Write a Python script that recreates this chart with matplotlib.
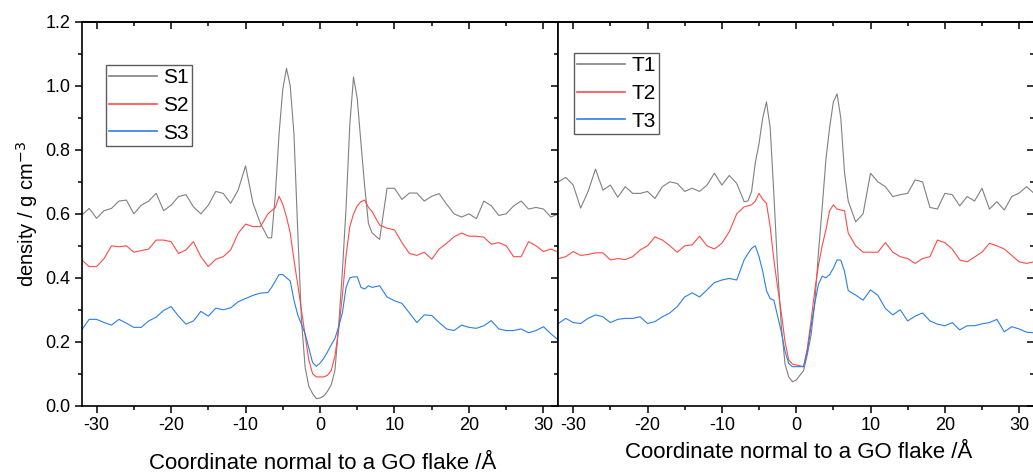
import matplotlib.pyplot as plt
from matplotlib.ticker import MultipleLocator, FormatStrFormatter

plt.rcParams['font.family'] = ['Liberation Sans', 'DejaVu Sans']
plt.rcParams['axes.unicode_minus'] = False

# coordinate grid (1 A steps outside, 0.5 A steps around the flake)
x = ([float(v) for v in range(-32, -6)]
     + [v * 0.5 for v in range(-13, 14)]
     + [float(v) for v in range(7, 33)])

s1 = [0.596, 0.617, 0.586, 0.61, 0.617, 0.64, 0.643, 0.60, 0.627, 0.64, 0.664, 0.61, 0.627,
      0.654, 0.66, 0.622, 0.60, 0.627, 0.67, 0.664, 0.633, 0.674, 0.75, 0.633, 0.57, 0.525,
      0.525, 0.66, 0.85, 0.99, 1.055, 1.00, 0.85, 0.55, 0.27, 0.12, 0.06, 0.038, 0.022, 0.024,
      0.03, 0.045, 0.065, 0.11, 0.25, 0.42, 0.62, 0.88, 1.028, 0.96, 0.82, 0.685, 0.57,
      0.54, 0.52, 0.68, 0.68, 0.645, 0.665, 0.665, 0.64, 0.655, 0.663, 0.63, 0.60, 0.59,
      0.60, 0.585, 0.64, 0.625, 0.595, 0.60, 0.625, 0.64, 0.615, 0.62, 0.615, 0.59, 0.60]
s2 = [0.456, 0.435, 0.435, 0.46, 0.50, 0.497, 0.50, 0.48, 0.485, 0.49, 0.518, 0.518, 0.513,
      0.476, 0.487, 0.513, 0.466, 0.435, 0.458, 0.466, 0.487, 0.539, 0.568, 0.56, 0.56, 0.60,
      0.61, 0.62, 0.655, 0.63, 0.59, 0.54, 0.456, 0.38, 0.30, 0.22, 0.143, 0.10, 0.09, 0.09,
      0.09, 0.095, 0.11, 0.155, 0.237, 0.345, 0.47, 0.56, 0.60, 0.625, 0.638, 0.643, 0.62,
      0.607, 0.565, 0.555, 0.55, 0.51, 0.476, 0.47, 0.48, 0.458, 0.49, 0.508, 0.528, 0.54,
      0.53, 0.53, 0.527, 0.505, 0.51, 0.50, 0.466, 0.466, 0.513, 0.50, 0.482, 0.49, 0.48]
s3 = [0.237, 0.27, 0.27, 0.26, 0.252, 0.27, 0.258, 0.245, 0.245, 0.265, 0.277, 0.298, 0.31,
      0.28, 0.255, 0.265, 0.295, 0.28, 0.305, 0.30, 0.306, 0.325, 0.335, 0.345, 0.352, 0.354,
      0.37, 0.39, 0.41, 0.41, 0.40, 0.39, 0.33, 0.285, 0.255, 0.225, 0.18, 0.135, 0.123, 0.133,
      0.148, 0.168, 0.19, 0.21, 0.247, 0.29, 0.37, 0.40, 0.403, 0.403, 0.37, 0.365, 0.375,
      0.37, 0.375, 0.34, 0.328, 0.32, 0.29, 0.26, 0.284, 0.282, 0.26, 0.24, 0.235, 0.252,
      0.245, 0.242, 0.25, 0.266, 0.24, 0.235, 0.235, 0.24, 0.228, 0.235, 0.247, 0.225, 0.205]

t1 = [0.70, 0.714, 0.69, 0.618, 0.67, 0.74, 0.674, 0.69, 0.652, 0.685, 0.664, 0.664, 0.67,
      0.648, 0.685, 0.70, 0.695, 0.67, 0.68, 0.67, 0.69, 0.727, 0.69, 0.72, 0.695, 0.638,
      0.64, 0.67, 0.76, 0.82, 0.90, 0.95, 0.87, 0.66, 0.43, 0.25, 0.13, 0.09, 0.075, 0.08,
      0.095, 0.11, 0.16, 0.22, 0.32, 0.48, 0.62, 0.77, 0.87, 0.95, 0.975, 0.90, 0.73,
      0.64, 0.575, 0.60, 0.727, 0.70, 0.685, 0.654, 0.66, 0.664, 0.706, 0.70, 0.62, 0.615,
      0.664, 0.66, 0.625, 0.654, 0.64, 0.68, 0.615, 0.638, 0.612, 0.654, 0.665, 0.685, 0.664]
t2 = [0.46, 0.466, 0.482, 0.47, 0.473, 0.478, 0.478, 0.456, 0.46, 0.457, 0.466, 0.487, 0.50,
      0.528, 0.518, 0.50, 0.48, 0.50, 0.503, 0.53, 0.50, 0.49, 0.508, 0.544, 0.60, 0.622,
      0.625, 0.628, 0.64, 0.664, 0.645, 0.633, 0.56, 0.456, 0.37, 0.29, 0.20, 0.143, 0.13, 0.127,
      0.125, 0.122, 0.18, 0.265, 0.36, 0.44, 0.50, 0.55, 0.61, 0.628, 0.615, 0.612, 0.61,
      0.54, 0.50, 0.48, 0.48, 0.48, 0.51, 0.48, 0.466, 0.46, 0.445, 0.46, 0.466, 0.518,
      0.51, 0.49, 0.456, 0.45, 0.465, 0.48, 0.508, 0.50, 0.49, 0.47, 0.45, 0.445, 0.45]
t3 = [0.257, 0.273, 0.26, 0.257, 0.273, 0.284, 0.278, 0.26, 0.27, 0.273, 0.273, 0.278, 0.257,
      0.263, 0.278, 0.29, 0.31, 0.34, 0.353, 0.34, 0.362, 0.385, 0.393, 0.398, 0.393, 0.456,
      0.475, 0.492, 0.50, 0.466, 0.42, 0.36, 0.335, 0.33, 0.28, 0.23, 0.17, 0.132, 0.122, 0.122,
      0.122, 0.122, 0.17, 0.247, 0.32, 0.38, 0.405, 0.40, 0.41, 0.43, 0.456, 0.455, 0.42,
      0.36, 0.346, 0.33, 0.362, 0.345, 0.304, 0.284, 0.30, 0.265, 0.28, 0.29, 0.265, 0.255,
      0.25, 0.26, 0.237, 0.25, 0.25, 0.256, 0.26, 0.27, 0.231, 0.247, 0.24, 0.23, 0.228]

grey, red, blue = '#808080', '#ff4a4a', '#2a7fe6'

fig = plt.figure(figsize=(10.33, 4.72), dpi=100)
ax1 = fig.add_axes([0.0791, 0.1405, 0.4614, 0.8129])
ax2 = fig.add_axes([0.5405, 0.1405, 0.4605, 0.8129])

panels = [(ax1, [s1, s2, s3], ['S1', 'S2', 'S3'], (0.051, 0.888)),
          (ax2, [t1, t2, t3], ['T1', 'T2', 'T3'], (0.033, 0.919))]

for ax, series, names, anchor in panels:
    for y, c, n in zip(series, [grey, red, blue], names):
        ax.plot(x, y, color=c, lw=0.8, label=n)
    ax.set_xlim(-32, 32)
    ax.set_ylim(0, 1.2)
    ax.xaxis.set_major_locator(MultipleLocator(10))
    ax.xaxis.set_minor_locator(MultipleLocator(5))
    ax.yaxis.set_major_locator(MultipleLocator(0.2))
    ax.yaxis.set_minor_locator(MultipleLocator(0.1))
    ax.yaxis.set_major_formatter(FormatStrFormatter('%.1f'))
    ax.tick_params(which='both', direction='out', width=1.1, labelsize=13, pad=3)
    ax.tick_params(which='major', length=5)
    ax.tick_params(which='minor', length=3)
    for sp in ax.spines.values():
        sp.set_linewidth(1.2)
    top = ax.secondary_xaxis('top')
    top.xaxis.set_major_locator(MultipleLocator(10))
    top.xaxis.set_minor_locator(MultipleLocator(5))
    top.tick_params(which='both', direction='in', width=1.1, labeltop=False)
    top.tick_params(which='major', length=5)
    top.tick_params(which='minor', length=3)
    top.spines['top'].set_linewidth(1.2)
    leg = ax.legend(loc='upper left', bbox_to_anchor=anchor, borderaxespad=0,
                    fontsize=15, frameon=True, fancybox=False, handlelength=2.3,
                    handletextpad=0.3, labelspacing=0.42, borderpad=0.15)
    leg.get_frame().set_edgecolor('#333333')
    leg.get_frame().set_linewidth(1.0)
    for line in leg.get_lines():
        line.set_linewidth(1.2)

ax2.tick_params(axis='y', labelleft=False)
right = ax2.secondary_yaxis('right')
right.yaxis.set_major_locator(MultipleLocator(0.2))
right.yaxis.set_minor_locator(MultipleLocator(0.1))
right.tick_params(which='both', direction='in', width=1.1, labelright=False)
right.tick_params(which='major', length=5)
right.tick_params(which='minor', length=3)

ax1.set_ylabel('density / g cm$^{-3}$', fontsize=14.5, labelpad=4)
fig.text(0.3125, 1 - 469 / 472, 'Coordinate normal to a GO flake /Å', fontsize=16,
         ha='center', va='baseline')
fig.text(0.7735, 1 - 458 / 472, 'Coordinate normal to a GO flake /Å', fontsize=16,
         ha='center', va='baseline')

plt.savefig('out.png', dpi=100)
